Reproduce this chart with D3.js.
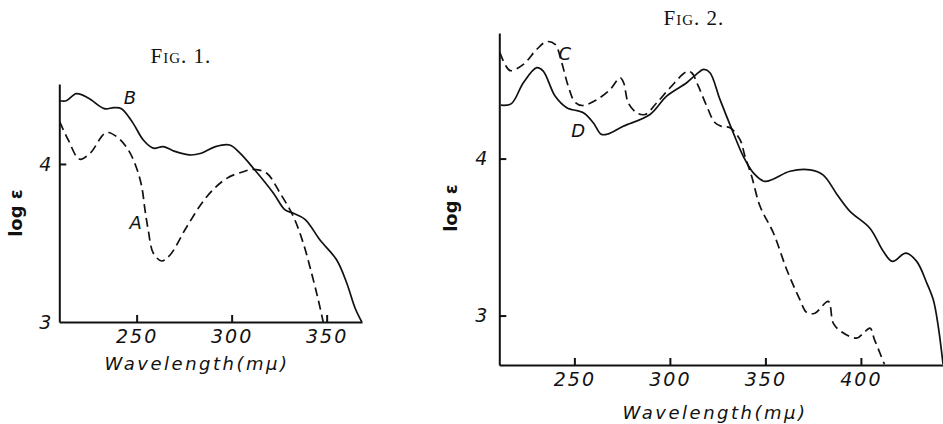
<!DOCTYPE html>
<html>
<head>
<meta charset="utf-8">
<script src="https://cdn.jsdelivr.net/npm/d3@7"></script>
<style>
  body { margin: 0; background: #fff; }
  svg text { fill: #111; }
</style>
</head>
<body>
<div id="chart"></div>
<script>
// Fig. 1 curves: [wavelength (mμ), log ε]
const curveA = [[209.5,4.268],[214,4.152],[220,4.03],[225.5,4.068],[233.9,4.198],[239.5,4.173],[245.6,4.089],[250,3.973],[252.7,3.856],[254.4,3.709],[256.1,3.582],[258.8,3.435],[263.2,3.386],[267.6,3.424],[276.4,3.603],[286.9,3.793],[297.4,3.909],[306.1,3.951],[311.4,3.966],[318.5,3.941],[325.5,3.815],[332.5,3.667],[337.7,3.498],[342.1,3.308],[345.6,3.139],[348.2,3.0]];
const curveB = [[209.5,4.40],[213,4.40],[218.3,4.445],[224.5,4.418],[233,4.35],[238,4.356],[242,4.35],[248,4.26],[253.5,4.152],[258.8,4.10],[264,4.11],[270,4.08],[278,4.057],[284,4.068],[291.5,4.11],[299,4.12],[304.4,4.068],[311.4,3.973],[322,3.815],[328.1,3.709],[332.5,3.688],[338.6,3.65],[346.5,3.519],[355.3,3.392],[360.6,3.245],[365,3.087],[368.5,3.0]];
// Fig. 2 curves
const curveC = [[211,4.675],[213.7,4.60],[216.5,4.56],[223.3,4.60],[230.3,4.696],[235.5,4.745],[239.9,4.728],[243.4,4.61],[246.8,4.461],[250.3,4.36],[254.2,4.338],[261,4.37],[268.7,4.44],[273.9,4.515],[275.8,4.483],[278.2,4.355],[282.6,4.292],[287,4.281],[293.1,4.355],[300.1,4.451],[308.8,4.553],[311.4,4.547],[314.9,4.461],[319.3,4.334],[323.5,4.23],[327,4.205],[331.5,4.196],[336.7,4.121],[339.3,4.015],[342.8,3.887],[347.2,3.696],[354.2,3.526],[361.2,3.292],[368.1,3.10],[371.6,3.02],[375.9,3.015],[382.9,3.09],[385.6,2.95],[390,2.895],[397.8,2.856],[401.3,2.888],[404.8,2.92],[407,2.85],[410,2.76],[412.3,2.69]];
const curveD = [[211.5,4.34],[217,4.35],[223.3,4.483],[230.3,4.579],[233.7,4.557],[239.9,4.398],[246,4.324],[254.7,4.292],[259.9,4.228],[264,4.155],[267,4.155],[275.6,4.206],[289.6,4.281],[298.3,4.398],[308.8,4.483],[313.2,4.53],[317.8,4.568],[321,4.547],[326.2,4.377],[333.2,4.164],[338.4,4.015],[343.7,3.909],[349.5,3.855],[354.2,3.87],[362.9,3.919],[373.4,3.928],[380.3,3.895],[387.3,3.775],[394.3,3.664],[404.8,3.555],[411.7,3.41],[416.5,3.345],[423.5,3.398],[429.2,3.345],[434.5,3.207],[437.9,3.10],[440.5,2.93],[443,2.69]];

const xTicks1 = [250, 300, 350];
const xTicks2 = [250, 300, 350, 400];
const yTicks = [3, 4];

const svg = d3.select("#chart")
    .append("svg")
    .attr("width", 943)
    .attr("height", 424);

const tickFont = "'DejaVu Sans', sans-serif";

function drawPanel(opt) {
    const x = d3.scaleLinear().domain(opt.xDomain).range(opt.xRange);
    const y = d3.scaleLinear().domain(opt.yDomain).range(opt.yRange);
    const g = svg.append("g");

    // axes
    const xAxis = d3.axisBottom(x).tickValues(opt.xTicks).tickFormat(d3.format("d"))
        .tickSizeInner(-7).tickSizeOuter(0).tickPadding(8);
    const gx = g.append("g").attr("transform", `translate(0,${opt.yRange[0]})`).call(xAxis);
    const yAxis = d3.axisLeft(y).tickValues(yTicks).tickFormat(d3.format("d"))
        .tickSizeInner(-7).tickSizeOuter(0).tickPadding(opt.yPad);
    const gy = g.append("g").attr("transform", `translate(${opt.xRange[0]},0)`).call(yAxis);

    [gx, gy].forEach(a => {
        a.select(".domain").attr("stroke", "#111").attr("stroke-width", 2);
        a.selectAll(".tick line").attr("stroke", "#111").attr("stroke-width", 2);
        a.selectAll(".tick text")
            .attr("font-family", tickFont)
            .attr("font-style", "italic")
            .attr("font-size", "19px")
            .attr("fill", "#111");
    });
    gx.selectAll(".tick text").attr("letter-spacing", "2px");
    gy.selectAll(".tick line").filter(d => d === 3 && opt.hide3Tick).remove();

    // curves
    const line = d3.line()
        .x(d => x(d[0]))
        .y(d => y(d[1]))
        .curve(d3.curveCatmullRom.alpha(0.5));

    opt.curves.forEach(c => {
        g.append("path")
            .datum(c.data)
            .attr("d", line)
            .attr("fill", "none")
            .attr("stroke", "#111")
            .attr("stroke-width", 1.7)
            .attr("stroke-dasharray", c.dashed ? "9,5" : null);
        g.append("text")
            .attr("x", x(c.label[0]))
            .attr("y", y(c.label[1]))
            .attr("text-anchor", "middle")
            .attr("dominant-baseline", "central")
            .attr("font-family", tickFont)
            .attr("font-style", "italic")
            .attr("font-size", "18px")
            .text(c.name);
    });

    // title
    g.append("text")
        .attr("x", opt.title[0])
        .attr("y", opt.title[1])
        .attr("text-anchor", "middle")
        .attr("font-family", "'Liberation Serif', serif")
        .attr("font-size", "21px")
        .attr("letter-spacing", "1px")
        .attr("font-variant", "small-caps")
        .text(opt.titleText);

    // axis labels
    g.append("text")
        .attr("x", opt.xLabel[0])
        .attr("y", opt.xLabel[1])
        .attr("text-anchor", "middle")
        .attr("dominant-baseline", "central")
        .attr("font-family", tickFont)
        .attr("font-style", "italic")
        .attr("font-size", "18px")
        .attr("letter-spacing", "2.5px")
        .text("Wavelength(mμ)");

    g.append("text")
        .attr("transform", `translate(${opt.yLabel[0]},${opt.yLabel[1]}) rotate(-90)`)
        .attr("text-anchor", "middle")
        .attr("dominant-baseline", "central")
        .attr("font-family", tickFont)
        .attr("font-size", "18px")
        .attr("font-weight", "bold")
        .text("log ε");
}

drawPanel({
    xDomain: [209.3, 368.6], xRange: [59.3, 362],
    yDomain: [3, 4.506], yRange: [322, 84],
    xTicks: xTicks1, yPad: 8, hide3Tick: true,
    curves: [
        { data: curveA, dashed: true, name: "A", label: [249.5, 3.63] },
        { data: curveB, dashed: false, name: "B", label: [246.5, 4.42] }
    ],
    title: [181, 63], titleText: "Fig. 1.",
    xLabel: [197, 363], yLabel: [15, 213]
});

drawPanel({
    xDomain: [210.7, 443.5], xRange: [499.3, 944],
    yDomain: [2.685, 4.8], yRange: [365, 33],
    xTicks: xTicks2, yPad: 12, hide3Tick: false,
    curves: [
        { data: curveC, dashed: true, name: "C", label: [245, 4.67] },
        { data: curveD, dashed: false, name: "D", label: [252, 4.18] }
    ],
    title: [694, 25], titleText: "Fig. 2.",
    xLabel: [715, 412], yLabel: [450, 208]
});
</script>
</body>
</html>
